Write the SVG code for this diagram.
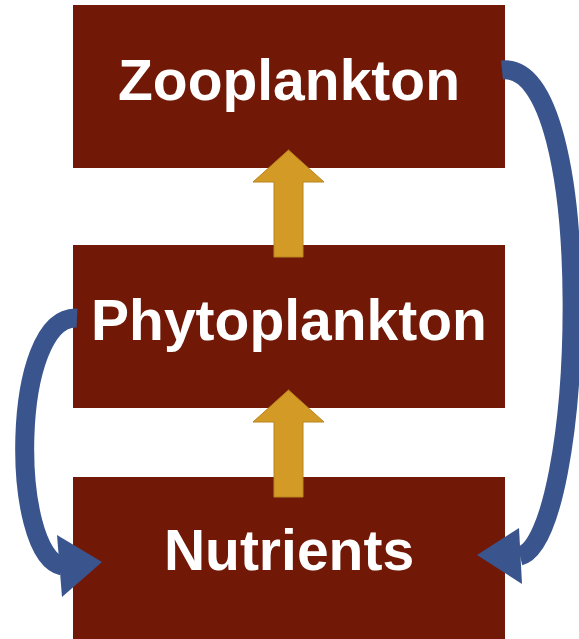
<svg xmlns="http://www.w3.org/2000/svg" width="579" height="639" viewBox="0 0 579 639">
<style>
.box{fill:#721806}
.lbl{fill:#fff;font-family:"Liberation Sans",Arial,sans-serif;font-weight:bold;font-size:57px;text-anchor:middle}
.up{fill:#D39B25;stroke:#B98420;stroke-width:1}
.loop{fill:none;stroke:#3A558E;stroke-width:19}
.head{fill:#3A558E}
</style>
<rect width="579" height="639" fill="#fff"/>
<g id="zooplankton"><rect class="box" x="73" y="5" width="432" height="163"/><text class="lbl" x="289" y="100">Zooplankton</text></g>
<g id="phytoplankton"><rect class="box" x="73" y="245" width="432" height="163"/><text class="lbl" x="289" y="340">Phytoplankton</text></g>
<g id="nutrients"><rect class="box" x="73" y="477" width="432" height="162"/><text class="lbl" x="289" y="570">Nutrients</text></g>
<g id="connectors">
<polygon class="up" points="274,257 274,182 253,182 288.5,150 324,182 303,182 303,257"/>
<polygon class="up" points="274,497 274,422 253,422 288.5,390 324,422 303,422 303,497"/>
<path class="loop" d="M502 70 C600 60,585 540,520 556"/>
<polygon class="head" points="477,555 519,528 522,584"/>
<path class="loop" d="M77 318 C10 315,10 555,62 566"/>
<polygon class="head" points="102,562 57,535 62,597"/>
</g>
</svg>
